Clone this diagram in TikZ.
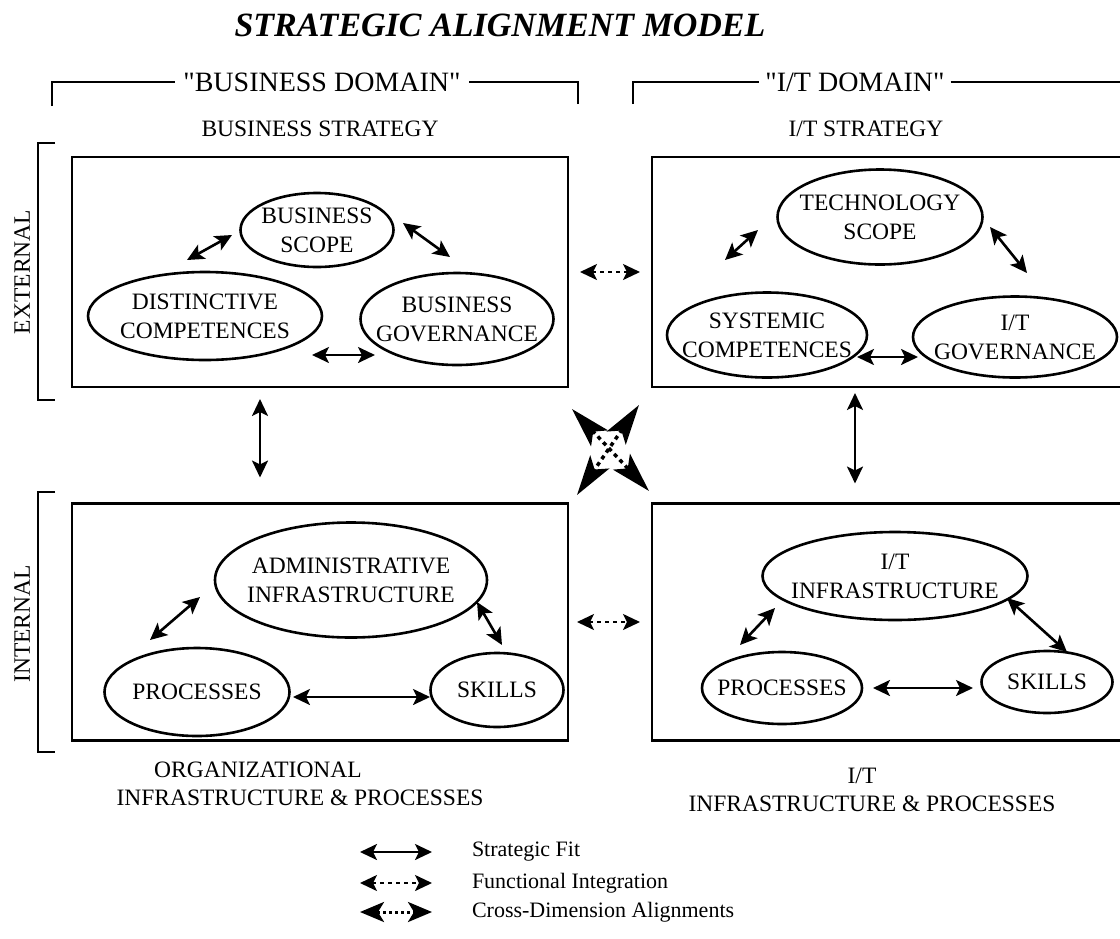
\documentclass[tikz,border=0pt]{standalone}
\usepackage{fontspec}
\setmainfont{Liberation Serif}
\usetikzlibrary{shapes.geometric,arrows.meta}
\begin{document}
\begin{tikzpicture}[x=1pt,y=-1pt,
  every node/.style={inner sep=0pt, outer sep=0pt},
  txt/.style={font=\fontsize{23.5}{29}\selectfont, align=center},
  hdr/.style={font=\fontsize{28}{32}\selectfont},
  legtxt/.style={font=\fontsize{22}{25}\selectfont, anchor=west},
  blob/.style={ellipse, draw, line width=2.6pt},
  panel/.style={draw, line width=2.6pt, rectangle},
  fitarrow/.style={line width=2.6pt, {Stealth[length=17pt,width=16pt,inset=4pt]}-{Stealth[length=17pt,width=16pt,inset=4pt]}},
  funcarrow/.style={line width=2.2pt, dash pattern=on 4pt off 4pt, {Stealth[length=17pt,width=16pt,inset=4pt]}-{Stealth[length=17pt,width=16pt,inset=4pt]}},
  crossleg/.style={line width=3pt, dash pattern=on 3pt off 3pt, {Stealth[length=24pt,width=20pt,inset=6pt]}-{Stealth[length=24pt,width=20pt,inset=6pt]}},
  crossbig/.style={line width=3.5pt, dash pattern=on 4pt off 4pt, {Stealth[length=40pt,width=23pt,inset=9pt]}-{Stealth[length=40pt,width=23pt,inset=9pt]}},
  bracket/.style={line width=2.4pt},
]
\useasboundingbox (0,0) rectangle (1120,938);

% title
\node[font=\fontsize{34}{38}\selectfont\bfseries\itshape] (title) at (500,25) {STRATEGIC ALIGNMENT MODEL};

% domain headers with their brackets
\node[hdr] (bdom) at (322,82) {\textquotedbl BUSINESS DOMAIN\textquotedbl};
\node[hdr] (idom) at (855,82) {\textquotedbl I/T DOMAIN\textquotedbl};
\coordinate (bdl) at (52,106);
\coordinate (bdr) at (578,104);
\coordinate (idl) at (633,104);
\coordinate (idr) at (1125,82);
\draw[bracket] (bdl) |- ([xshift=-8pt]bdom.west);
\draw[bracket] (bdr) |- ([xshift=8pt]bdom.east);
\draw[bracket] (idl) |- ([xshift=-6pt]idom.west);
\draw[bracket] ([xshift=6pt]idom.east) -- (idr);

% column captions
\node[txt] (bstrat) at (320,129) {BUSINESS STRATEGY};
\node[txt] (istrat) at (866,129) {I/T STRATEGY};

% row labels with brackets
\node[txt, rotate=90] (ext) at (22,272) {EXTERNAL};
\node[txt, rotate=90] (int) at (22,624) {INTERNAL};
\coordinate (e1) at (55,143);
\coordinate (e2) at (55,400);
\coordinate (i1) at (55,492);
\coordinate (i2) at (55,752);
\draw[bracket] (e1) -- ++(-17,0) |- (e2);
\draw[bracket] (i1) -- ++(-17,0) |- (i2);

% the four panels
\node[panel, minimum width=496, minimum height=230] (bs) at (320,272) {};
\node[panel, minimum width=490, minimum height=230] (is) at (897,272) {};
\node[panel, minimum width=496, minimum height=237] (bi) at (320,622) {};
\node[panel, minimum width=490, minimum height=237] (ii) at (897,622) {};

% business strategy
\node[blob, minimum width=153, minimum height=74,
  label={[txt]center:BUSINESS\\SCOPE}] (bscope) at (317,230) {};
\node[blob, minimum width=234, minimum height=88,
  label={[txt]center:DISTINCTIVE\\COMPETENCES}] (dcomp) at (205,316) {};
\node[blob, minimum width=193, minimum height=92,
  label={[txt]center:BUSINESS\\GOVERNANCE}] (bgov) at (457,319) {};

% I/T strategy
\node[blob, minimum width=205, minimum height=95,
  label={[txt]center:TECHNOLOGY\\SCOPE}] (tscope) at (880,217) {};
\node[blob, minimum width=200, minimum height=85,
  label={[txt]center:SYSTEMIC\\COMPETENCES}] (scomp) at (767,335) {};
\node[blob, minimum width=204, minimum height=81,
  label={[txt]center:I/T\\GOVERNANCE}] (igov) at (1015,337) {};

% organizational infrastructure
\node[blob, minimum width=272, minimum height=115,
  label={[txt]center:ADMINISTRATIVE\\INFRASTRUCTURE}] (admin) at (351,580) {};
\node[blob, minimum width=185, minimum height=88,
  label={[txt]center:PROCESSES}] (bproc) at (197,692) {};
\node[blob, minimum width=133, minimum height=74,
  label={[txt]center:SKILLS}] (bskill) at (497,690) {};

% I/T infrastructure
\node[blob, minimum width=265, minimum height=88,
  label={[txt]center:I/T\\INFRASTRUCTURE}] (iinfra) at (895,576) {};
\node[blob, minimum width=160, minimum height=72,
  label={[txt]center:PROCESSES}] (iproc) at (782,688) {};
\node[blob, minimum width=131, minimum height=62,
  label={[txt]center:SKILLS}] (iskill) at (1047,682) {};

% strategic fit arrows inside the panels
\coordinate (p1a) at (232,235); \coordinate (p1b) at (187,260);
\coordinate (p2a) at (403,223); \coordinate (p2b) at (450,257);
\coordinate (p3a) at (312,355); \coordinate (p3b) at (375,355);
\draw[fitarrow] (p1a) -- (p1b);
\draw[fitarrow] (p2a) -- (p2b);
\draw[fitarrow] (p3a) -- (p3b);

\coordinate (q1a) at (758,230); \coordinate (q1b) at (725,260);
\coordinate (q2a) at (990,227); \coordinate (q2b) at (1027,273);
\coordinate (q3a) at (857,357); \coordinate (q3b) at (918,357);
\draw[fitarrow] (q1a) -- (q1b);
\draw[fitarrow] (q2a) -- (q2b);
\draw[fitarrow] (q3a) -- (q3b);

\coordinate (r1a) at (200,597); \coordinate (r1b) at (150,640);
\coordinate (r2a) at (477,602); \coordinate (r2b) at (502,645);
\coordinate (r3a) at (293,697); \coordinate (r3b) at (430,697);
\draw[fitarrow] (r1a) -- (r1b);
\draw[fitarrow] (r2a) -- (r2b);
\draw[fitarrow] (r3a) -- (r3b);

\coordinate (s1a) at (775,608); \coordinate (s1b) at (740,645);
\coordinate (s2a) at (1007,598); \coordinate (s2b) at (1067,652);
\coordinate (s3a) at (873,688); \coordinate (s3b) at (973,688);
\draw[fitarrow] (s1a) -- (s1b);
\draw[fitarrow] (s2a) -- (s2b);
\draw[fitarrow] (s3a) -- (s3b);

% strategic fit between the rows
\draw[fitarrow] ([xshift=-60pt,yshift=-12pt]bs.south) -- ([xshift=-60pt,yshift=26pt]bi.north);
\draw[fitarrow] ([xshift=-42pt,yshift=-6pt]is.south) -- ([xshift=-42pt,yshift=20pt]ii.north);

% functional integration between the domains
\draw[funcarrow] ([xshift=12pt]bs.east) -- ([xshift=-12pt]is.west);
\draw[funcarrow] ([xshift=9pt]bi.east) -- ([xshift=-12pt]ii.west);

% cross-dimension alignments
\coordinate (xnw) at (572,409); \coordinate (xse) at (649,491);
\coordinate (xne) at (639,405); \coordinate (xsw) at (577,495);
\draw[crossbig] (xnw) -- (xse);
\draw[crossbig] (xne) -- (xsw);

% captions under the lower panels
\node[txt] (org1) at (258,770) {ORGANIZATIONAL};
\node[txt] (org2) at (300,798) {INFRASTRUCTURE \& PROCESSES};
\node[txt] (it1) at (862,776) {I/T};
\node[txt] (it2) at (872,804) {INFRASTRUCTURE \& PROCESSES};

% legend
\coordinate (l1a) at (360,852); \coordinate (l1b) at (432,852);
\coordinate (l2a) at (360,883); \coordinate (l2b) at (432,883);
\coordinate (l3a) at (360,912); \coordinate (l3b) at (432,912);
\draw[fitarrow] (l1a) -- (l1b);
\draw[funcarrow] (l2a) -- (l2b);
\draw[crossleg] (l3a) -- (l3b);
\node[legtxt] (lg1) at (472,852) {Strategic Fit};
\node[legtxt] (lg2) at (472,883) {Functional Integration};
\node[legtxt] (lg3) at (472,912) {Cross-Dimension Alignments};
\end{tikzpicture}
\end{document}
